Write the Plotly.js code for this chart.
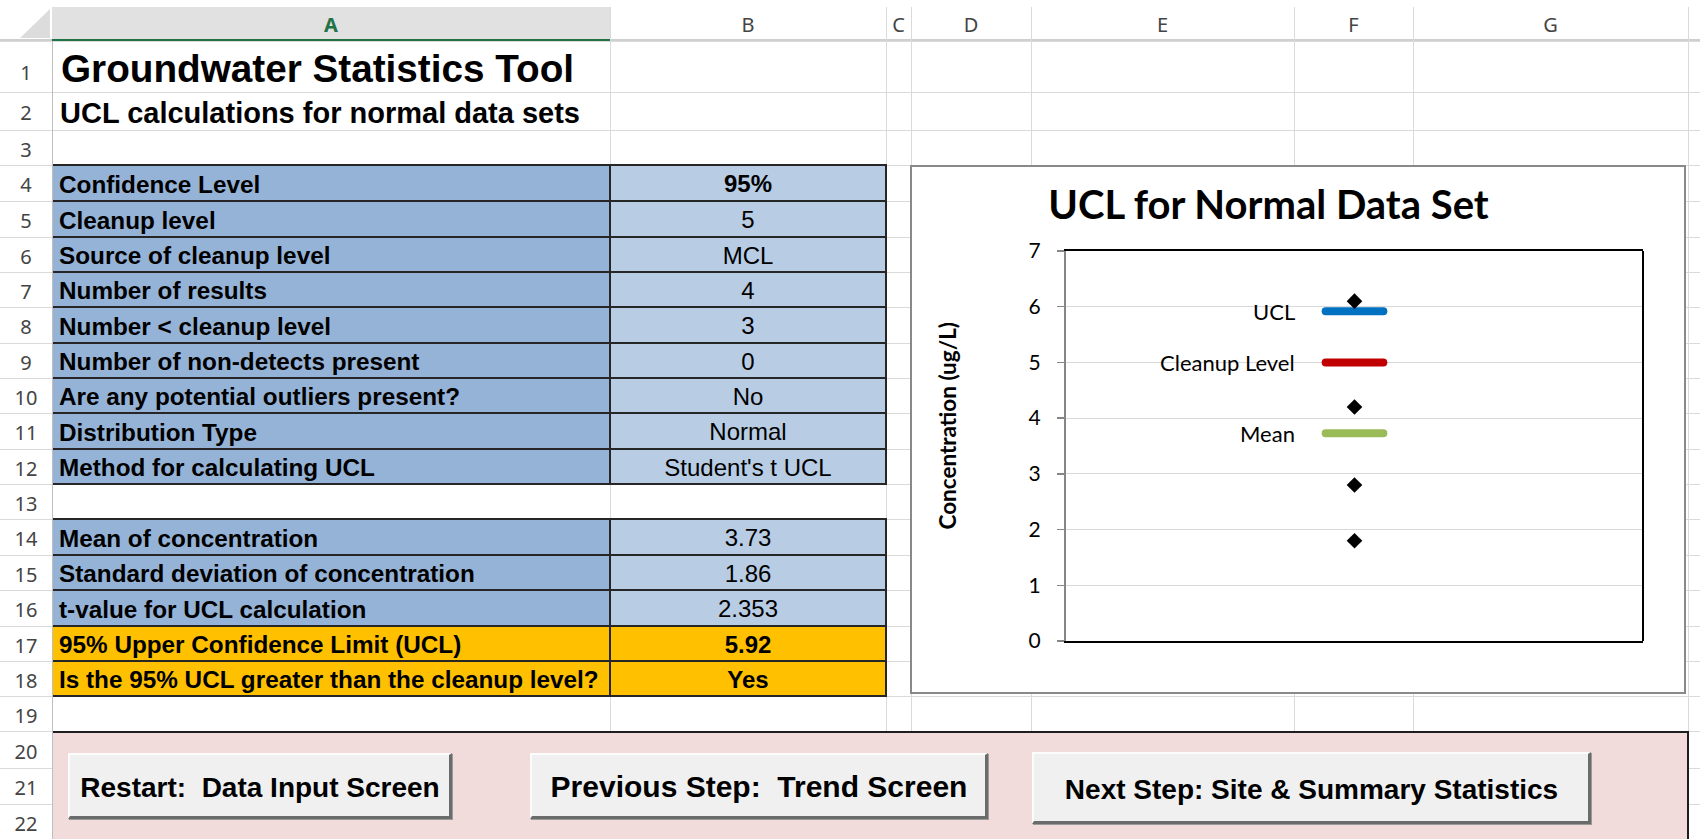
<!DOCTYPE html>
<html>
<head>
<meta charset="utf-8">
<script src="https://cdn.plot.ly/plotly-3.0.1.min.js"></script>
<style>
html,body{margin:0;padding:0;background:#fff;}
#sheet{position:relative;width:1700px;height:839px;overflow:hidden;background:#fff;font-family:"Liberation Sans",Arial,sans-serif;}
.abs{position:absolute;box-sizing:border-box;}
#chart .js-line{stroke-linecap:round !important;}
</style>
</head>
<body>
<div id="sheet"></div>
<script>
// ---------------- DATA ----------------
const sheetTitle = "Groundwater Statistics Tool";
const sheetSubtitle = "UCL calculations for normal data sets";
const columnLetters = ["A", "B", "C", "D", "E", "F", "G"];
const inputLabels = [
  "Confidence Level", "Cleanup level", "Source of cleanup level", "Number of results",
  "Number < cleanup level", "Number of non-detects present", "Are any potential outliers present?",
  "Distribution Type", "Method for calculating UCL"
];
const inputValues = ["95%", "5", "MCL", "4", "3", "0", "No", "Normal", "Student's t UCL"];
const statLabels = [
  "Mean of concentration", "Standard deviation of concentration", "t-value for UCL calculation",
  "95% Upper Confidence Limit (UCL)", "Is the 95% UCL greater than the cleanup level?"
];
const statValues = ["3.73", "1.86", "2.353", "5.92", "Yes"];
const buttonLabels = ["Restart:  Data Input Screen", "Previous Step:  Trend Screen", "Next Step: Site & Summary Statistics"];

const chartTitle = "UCL for Normal Data Set";
const yAxisTitle = "Concentration (ug/L)";
const resultValues = [6.1, 4.2, 2.8, 1.8];
const levelNames = ["UCL", "Cleanup Level", "Mean"];
const levelValues = [5.92, 5, 3.73];

// ---------------- LAYOUT / STYLE ----------------
const levelColors = ["#0070C0", "#C00000", "#9BBB59"];
const colX = [0, 52, 610, 886, 911, 1031, 1294, 1413, 1688, 1700];
const rowY = [41, 92, 130, 165, 201, 237, 272, 307, 343, 378, 413, 449, 484, 519, 555, 590, 626, 661, 696, 731, 768, 804, 840];
const inputFirstRow = 4, statFirstRow = 14;
const boldValueRows = [4, 17, 18];
const orangeRows = [17, 18];

const sheet = document.getElementById("sheet");
function box(l, t, w, h, style) {
  const d = document.createElement("div");
  d.className = "abs";
  Object.assign(d.style, {left: l + "px", top: t + "px", width: w + "px", height: h + "px"}, style || {});
  sheet.appendChild(d);
  return d;
}
function text(str, x, yc, o) {
  const lh = Math.round(o.size * 1.6);
  const d = document.createElement("div");
  d.className = "abs";
  d.textContent = str;
  Object.assign(d.style, {
    whiteSpace: "pre", top: (yc - lh / 2) + "px", height: lh + "px", lineHeight: lh + "px",
    fontSize: o.size + "px", fontWeight: o.weight || "normal", color: o.color || "#000",
    fontFamily: o.family || '"Liberation Sans", Arial, sans-serif'
  });
  if (o.align === "center") { d.style.left = (x - 600) + "px"; d.style.width = "1200px"; d.style.textAlign = "center"; }
  else { d.style.left = x + "px"; }
  sheet.appendChild(d);
  return d;
}
const rowTop = r => rowY[r - 1];
const rowBot = r => rowY[r];
const rowMid = r => (rowY[r - 1] + rowY[r]) / 2;

// gridlines
rowY.forEach(y => box(0, y, 1700, 1, {background: "#dadada"}));
colX.slice(2, 9).forEach(x => box(x, 7, 1, 839, {background: "#dadada"}));
box(52, 7, 1, 839, {background: "#bfbfbf"});

// header row
box(0, 0, 1700, 7, {background: "#fff"});
box(52, 7, colX[2] - 52, 34, {background: "#e1e1e1"});
box(0, 39, 1700, 2, {background: "#cfcfcf"});
box(52, 39, colX[2] - 52, 2, {background: "#217346"});
box(20, 9, 30, 29, {background: "#dcdcdc", clipPath: "polygon(100% 0, 100% 100%, 0 100%)"});
colX.slice(2, 9).forEach(x => box(x, 7, 1, 34, {background: "#dadada"}));
columnLetters.forEach((c, i) => {
  const cx = (colX[i + 1] + colX[i + 2]) / 2;
  text(c, cx, 25, {size: 20, align: "center", family: '"Noto Sans", sans-serif',
    color: i === 0 ? "#217346" : "#444", weight: i === 0 ? "bold" : "normal"});
});

// row numbers
for (let r = 1; r <= 22; r++) {
  const off = r === 1 ? 6 : 2;
  text(String(r), 26, rowMid(r) + off, {size: 20, align: "center", family: '"Noto Sans", sans-serif', color: "#444"});
}

// titles
text(sheetTitle, 61, rowMid(1) + 2, {size: 38.7, weight: "bold"});
text(sheetSubtitle, 60, rowMid(2) + 2, {size: 29, weight: "bold"});

// tables
function tableRow(r, label, value) {
  const orange = orangeRows.includes(r);
  box(53, rowTop(r), colX[2] - 53, rowBot(r) - rowTop(r), {background: orange ? "#FFC000" : "#95B3D7"});
  box(colX[2], rowTop(r), colX[3] - colX[2], rowBot(r) - rowTop(r), {background: orange ? "#FFC000" : "#B8CCE4"});
  text(label, 59, rowMid(r) + 1, {size: 24.3, weight: "bold"});
  text(value, (colX[2] + colX[3]) / 2, rowMid(r) + 1, {size: 24, align: "center", weight: boldValueRows.includes(r) ? "bold" : "normal"});
}
function tableBorders(r0, r1) {
  for (let r = r0; r <= r1 + 1; r++) box(53, rowY[r - 1] - 1, colX[3] - 53 + 1, 2, {background: "#262626"});
  box(colX[2] - 1, rowTop(r0) - 1, 2, rowBot(r1) - rowTop(r0) + 2, {background: "#262626"});
  box(colX[3] - 1, rowTop(r0) - 1, 2, rowBot(r1) - rowTop(r0) + 2, {background: "#262626"});
}
inputLabels.forEach((l, i) => tableRow(inputFirstRow + i, l, inputValues[i]));
statLabels.forEach((l, i) => tableRow(statFirstRow + i, l, statValues[i]));
tableBorders(inputFirstRow, inputFirstRow + inputLabels.length - 1);
tableBorders(statFirstRow, statFirstRow + statLabels.length - 1);

// pink button panel
box(53, 731, 1689 - 53, 120, {background: "#F2DCDB", borderTop: "2px solid #1e1e1e", borderRight: "2px solid #1e1e1e"});
const btnBoxes = [[68, 753, 384, 66], [530, 753, 458, 66], [1032, 752, 559, 72]];
const btnFont = [28, 30, 28];
buttonLabels.forEach((b, i) => {
  const [l, t, w, h] = btnBoxes[i];
  box(l, t, w, h, {background: "#f0f0f0", borderStyle: "solid", borderWidth: "2px 3px 3px 2px",
    borderColor: "#fcfcfc #6b6b6b #6b6b6b #fcfcfc", boxShadow: "1px 1px 0 #9a9a9a"});
  text(b, l + w / 2, t + h / 2 + 1, {size: btnFont[i], weight: "bold", align: "center"});
});

// chart container
const chartBox = box(910, 165, 776, 529, {background: "#fff", border: "2px solid #898989"});
const chartDiv = document.createElement("div");
chartDiv.id = "chart";
chartBox.appendChild(chartDiv);

// ---------------- CHART ----------------
const barHalf = 0.1;
const center = 1;
const traces = levelNames.map((n, i) => ({
  type: "scatter", mode: "lines", name: n,
  x: [center - barHalf, center + barHalf], y: [levelValues[i], levelValues[i]],
  line: {color: levelColors[i], width: 8}, hoverinfo: "skip", showlegend: false
}));
traces.push({
  type: "scatter", mode: "markers", name: "Results",
  x: resultValues.map(() => center), y: resultValues,
  marker: {symbol: "diamond", size: 12, color: "#000"}, showlegend: false
});

const annotations = levelNames.map((n, i) => ({
  x: center - barHalf, y: levelValues[i], xref: "x", yref: "y", text: n,
  xanchor: "right", yanchor: "middle", xshift: -29, showarrow: false,
  font: {family: "Lato", size: 22, color: "#000"}
}));
annotations.push({
  x: -0.2062, y: 0.5526, xref: "paper", yref: "paper", text: yAxisTitle, textangle: -90,
  xanchor: "center", yanchor: "middle", showarrow: false,
  font: {family: "Lato", size: 22.5, color: "#000", weight: "bold"}
});

const layout = {
  width: 772, height: 525,
  margin: {l: 154, r: 41, t: 84, b: 51, pad: 0},
  paper_bgcolor: "#fff", plot_bgcolor: "#fff",
  showlegend: false,
  title: {text: chartTitle, font: {family: "Lato", size: 40, color: "#000", weight: "bold"},
    x: 0.4618, xanchor: "center", y: 0.9267, yanchor: "middle", xref: "container", yref: "container"},
  xaxis: {range: [0, 2], showgrid: false, zeroline: false, showticklabels: false, ticks: "",
    showline: true, linecolor: "#000", linewidth: 2, mirror: true, fixedrange: true},
  yaxis: {range: [0, 7], tick0: 0, dtick: 1, showgrid: true, gridcolor: "#d9d9d9", gridwidth: 1,
    zeroline: false, showline: true, linecolor: "#868686", linewidth: 2,
    ticks: "outside", ticklen: 7, tickwidth: 1.5, tickcolor: "#868686", ticklabelstandoff: 12,
    tickfont: {family: "Lato", size: 21, color: "#000"}, fixedrange: true},
  shapes: [{type: "line", xref: "paper", yref: "paper", x0: 1, x1: 1, y0: 0, y1: 1, line: {color: "#000", width: 2}}],
  annotations: annotations
};
Plotly.newPlot(chartDiv, traces, layout, {displayModeBar: false, staticPlot: true});
</script>
</body>
</html>
